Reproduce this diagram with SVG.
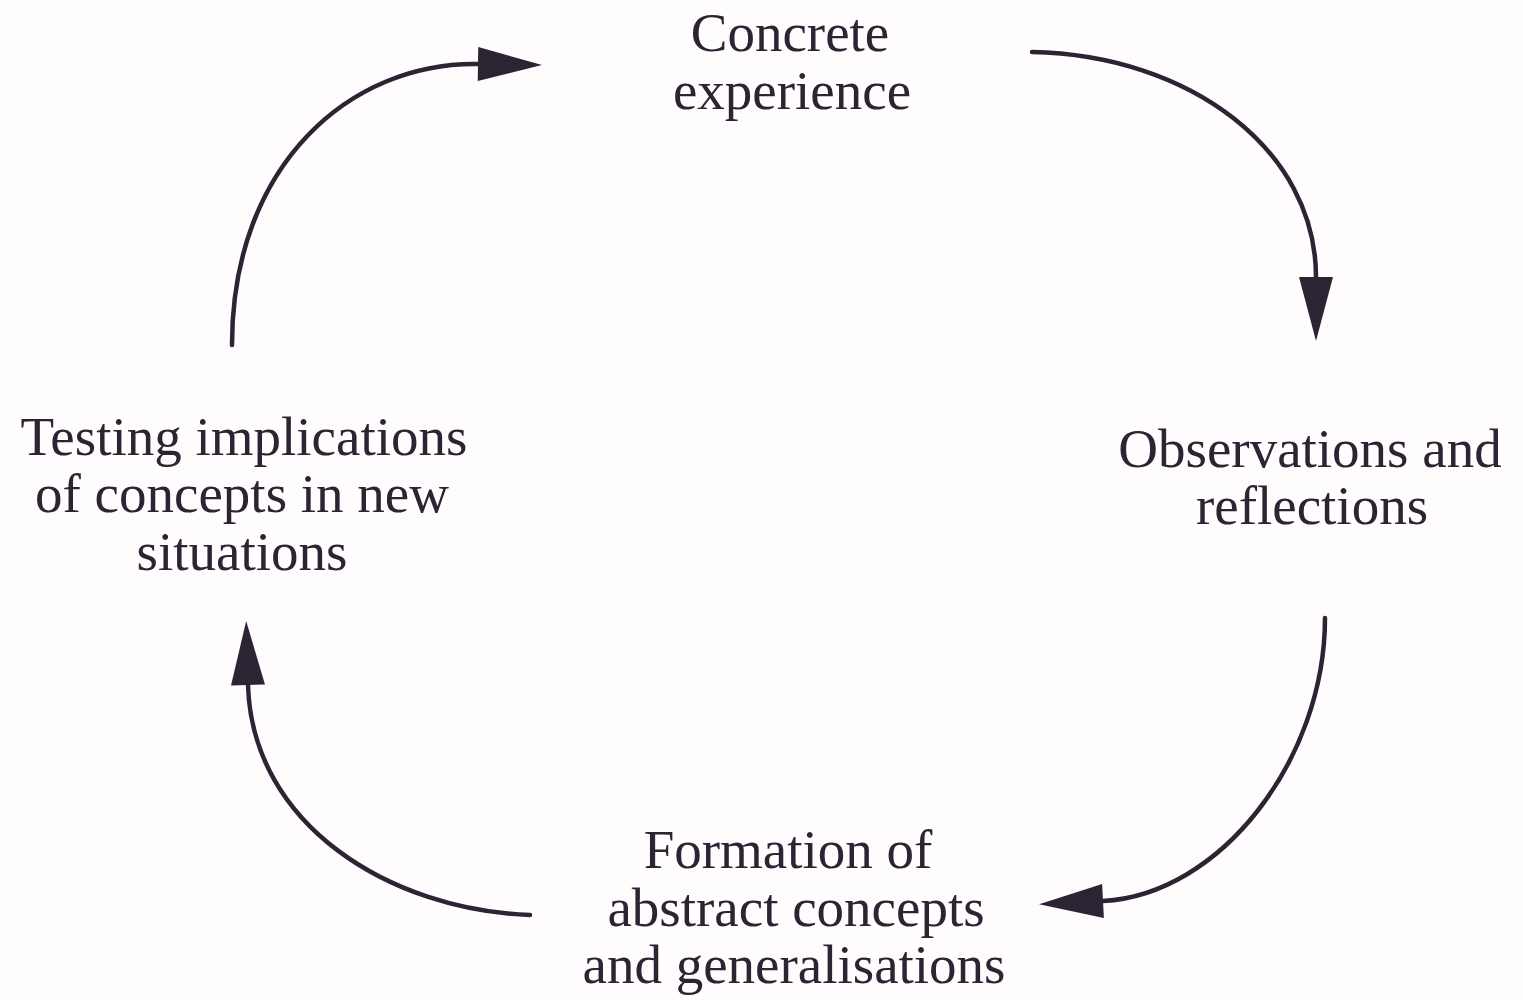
<svg xmlns="http://www.w3.org/2000/svg" width="1523" height="1000" viewBox="0 0 1523 1000">
  <style>
    .label { font-family: "Liberation Serif", "Times New Roman", serif; font-size: 55px; fill: #2c2333; text-anchor: middle; }
    .flow { fill: none; stroke: #2c2333; stroke-width: 4.5; stroke-linecap: round; marker-end: url(#head); }
  </style>
  <defs>
    <marker id="head" markerUnits="userSpaceOnUse" markerWidth="70" markerHeight="40" refX="0" refY="0" orient="auto" overflow="visible">
      <path d="M0,-17 L64,0 L0,17 Z" fill="#2c2333"/>
    </marker>
  </defs>
  <rect width="1523" height="1000" fill="#fefcfd"/>

  <!-- cycle connectors -->
  <g id="connectors">
    <path class="flow" d="M232,345 C232,165 350,62 478,64"/>
    <path class="flow" d="M1032,52 C1190,55 1316,150 1316,277"/>
    <path class="flow" d="M1325,618 C1325,760 1220,895 1103,901"/>
    <path class="flow" d="M530,915 C390,910 252,825 248,685"/>
  </g>

  <!-- stages -->
  <g id="concrete-experience">
    <text class="label" x="790" y="51">Concrete</text>
    <text class="label" x="792" y="109">experience</text>
  </g>
  <g id="observations-reflections">
    <text class="label" x="1310" y="467">Observations and</text>
    <text class="label" x="1312" y="524">reflections</text>
  </g>
  <g id="abstract-concepts">
    <text class="label" x="788" y="868">Formation of</text>
    <text class="label" x="796" y="926">abstract concepts</text>
    <text class="label" x="794" y="983">and generalisations</text>
  </g>
  <g id="testing-implications">
    <text class="label" x="244" y="455">Testing implications</text>
    <text class="label" x="242" y="512">of concepts in new</text>
    <text class="label" x="242" y="570">situations</text>
  </g>
</svg>
